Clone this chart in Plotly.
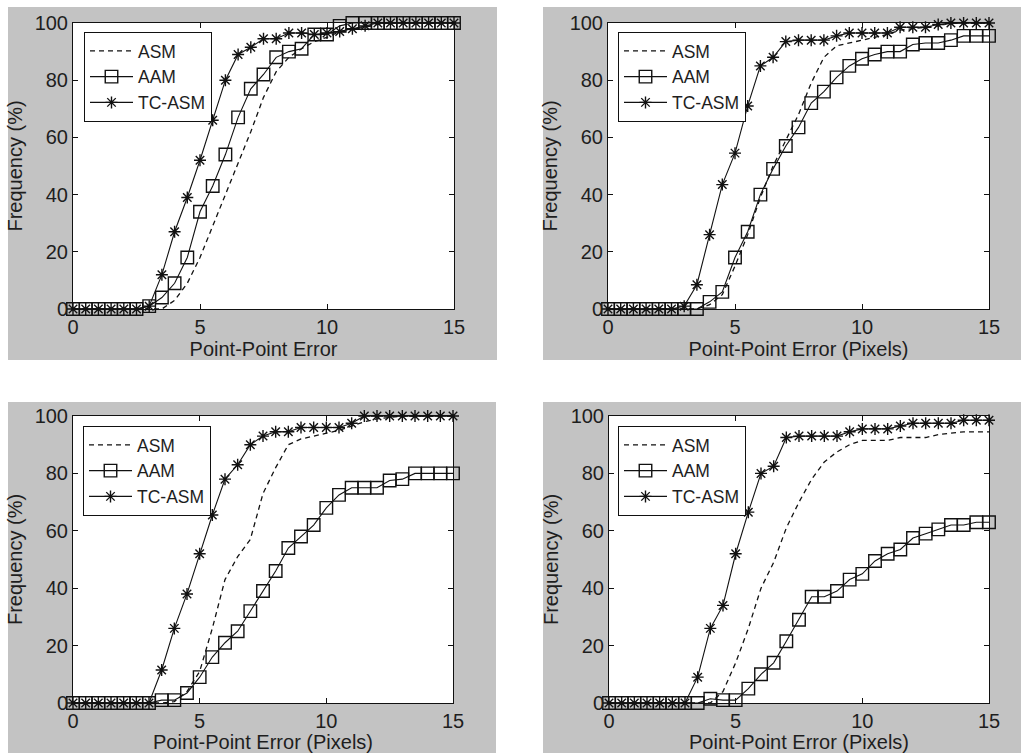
import plotly.graph_objects as go

# ---------------- data ----------------
X_ERR = [0, 0.5, 1, 1.5, 2, 2.5, 3, 3.5, 4, 4.5, 5, 5.5, 6, 6.5, 7, 7.5,
         8, 8.5, 9, 9.5, 10, 10.5, 11, 11.5, 12, 12.5, 13, 13.5, 14, 14.5, 15]

SERIES_NAMES = ["ASM", "AAM", "TC-ASM"]

# panel 1 (top-left)
ASM_1 = [0, 0, 0, 0, 0, 0, 0, 0, 3, 9, 18, 29, 40, 51, 62, 74,
         83, 88, 91, 93.5, 95, 97, 98, 98.5, 99.5, 100, 100, 100, 100, 100, 100]
AAM_1 = [0, 0, 0, 0, 0, 0, 1, 4, 9, 18, 34, 43, 54, 67, 77, 82,
         88, 90, 91, 96, 96, 99, 100, 100, 100, 100, 100, 100, 100, 100, 100]
TC_1 = [0, 0, 0, 0, 0, 0, 1, 12, 27, 39, 52, 66, 80, 89, 91.5, 94.5,
        94.5, 96.5, 96.5, 96, 96.5, 97, 98, 99, 100, 100, 100, 100, 100, 100, 100]

# panel 2 (top-right)
ASM_2 = [0, 0, 0, 0, 0, 0, 0, 0, 1.5, 5, 15, 26, 39, 50, 59, 68,
         79, 88, 92, 93, 94, 95, 96, 97.5, 98, 98.5, 99, 100, 100, 100, 100]
AAM_2 = [0, 0, 0, 0, 0, 0, 0, 0, 2.5, 6, 18, 27, 40, 49, 57, 63.5,
         72, 76, 81, 85, 87.5, 89, 90, 90, 92.5, 93, 93, 94, 95.5, 95.5, 95.5]
TC_2 = [0, 0, 0, 0, 0, 0, 1, 8.5, 26, 43.5, 54.5, 71, 85, 88, 93.5, 94,
        94, 94, 95.5, 96.5, 96.5, 96.5, 96.5, 98.5, 98.5, 98.5, 99.5, 100, 100, 100, 100]

# panel 3 (bottom-left)
ASM_3 = [0, 0, 0, 0, 0, 0, 0, 0, 0.5, 4, 11, 26, 43, 51, 57, 73,
         82, 90, 92, 93, 94, 95, 96.5, 98, 99, 99.5, 100, 100, 100, 100, 100]
AAM_3 = [0, 0, 0, 0, 0, 0, 0, 1, 1, 3.5, 9, 16, 21, 25, 32, 39,
         46, 54, 58, 62, 68, 72.5, 75, 75, 75, 77.5, 78, 80, 80, 80, 80]
TC_3 = [0, 0, 0, 0, 0, 0, 0, 11.5, 26, 38, 52, 65.5, 78, 83, 90, 93,
        94.5, 94.5, 96, 96, 96, 96, 97.5, 100, 100, 100, 100, 100, 100, 100, 100]

# panel 4 (bottom-right)
ASM_4 = [0, 0, 0, 0, 0, 0, 0, 0, 0, 4, 14, 26, 40, 49, 61, 70,
         78, 84, 87.5, 90, 91.5, 91.5, 91.5, 92.5, 92.5, 92.5, 93.5, 94, 94.5, 94.5, 94.5]
AAM_4 = [0, 0, 0, 0, 0, 0, 0, 0, 1.5, 1, 1, 5, 10, 14, 21.5, 29,
         37, 37, 39, 43, 45, 49.5, 52, 53.5, 57.5, 59, 60.5, 62, 62, 63, 63]
TC_4 = [0, 0, 0, 0, 0, 0, 0, 9, 26, 34, 52, 66.5, 80, 82.5, 92.5, 93,
        93, 93, 93, 94.5, 95.5, 95.5, 95.5, 96.5, 97.5, 97.5, 97.5, 97.5, 98.5, 98.5, 98.5]

X_TITLES = ["Point-Point Error", "Point-Point Error (Pixels)",
            "Point-Point Error (Pixels)", "Point-Point Error (Pixels)"]
Y_TITLE = "Frequency (%)"
X_TICKS = [0, 5, 10, 15]
Y_TICKS = [0, 20, 40, 60, 80, 100]

PANELS = [(ASM_1, AAM_1, TC_1), (ASM_2, AAM_2, TC_2),
          (ASM_3, AAM_3, TC_3), (ASM_4, AAM_4, TC_4)]

# ---------------- layout geometry (pixels) ----------------
W, H = 1021, 753
PLOT_PX = [(73, 454, 23, 309), (608, 989, 23, 309),
           (73, 453, 416, 703), (609, 989, 416, 703)]
GREY_PX = [(8, 497, 7, 360), (543, 1021, 7, 360),
           (8, 496, 402, 753), (543, 1021, 402, 753)]
LEGEND_PX = [(84, 32), (618, 32), (83, 426), (618, 426)]

GREY = "#c3c3c3"
INK = "#111111"
TXT = "#1e1e1e"
FONT = "Liberation Sans, Arial, sans-serif"


def px_x(p):
    return p / W


def px_y(p):
    return 1 - p / H


fig = go.Figure()
shapes = []
layout_axes = {}

for i, (asm, aam, tc) in enumerate(PANELS):
    n = i + 1
    xa = "x" if n == 1 else f"x{n}"
    ya = "y" if n == 1 else f"y{n}"
    leg = "legend" if n == 1 else f"legend{n}"

    fig.add_trace(go.Scatter(
        x=X_ERR, y=asm, name=SERIES_NAMES[0], mode="lines",
        line=dict(color=INK, width=1.3, dash="5px,4px"),
        xaxis=xa, yaxis=ya, legend=leg, cliponaxis=False))
    fig.add_trace(go.Scatter(
        x=X_ERR, y=aam, name=SERIES_NAMES[1], mode="lines+markers",
        line=dict(color=INK, width=1.1),
        marker=dict(symbol="square-open", size=12.5, color=INK,
                    line=dict(width=1.4, color=INK)),
        xaxis=xa, yaxis=ya, legend=leg, cliponaxis=False))
    fig.add_trace(go.Scatter(
        x=X_ERR, y=tc, name=SERIES_NAMES[2], mode="lines+markers",
        line=dict(color=INK, width=1.1),
        marker=dict(symbol="asterisk-open", size=10, color=INK,
                    line=dict(width=1.4, color=INK)),
        xaxis=xa, yaxis=ya, legend=leg, cliponaxis=False))

    l, r, t, b = PLOT_PX[i]
    axis_common = dict(
        showline=True, linecolor=INK, linewidth=1, mirror="ticks",
        ticks="inside", ticklen=5, tickcolor=INK, tickwidth=1,
        showgrid=False, zeroline=False, automargin=False,
        tickfont=dict(family=FONT, size=20, color=TXT),
    )
    xkey = "xaxis" if n == 1 else f"xaxis{n}"
    ykey = "yaxis" if n == 1 else f"yaxis{n}"
    layout_axes[xkey] = dict(
        axis_common, domain=[px_x(l), px_x(r)], range=[0, 15],
        tickvals=X_TICKS, anchor=ya,
        title=dict(text=X_TITLES[i], font=dict(family=FONT, size=20, color=TXT),
                   standoff=4))
    layout_axes[ykey] = dict(
        axis_common, domain=[px_y(b), px_y(t)], range=[0, 100],
        tickvals=Y_TICKS, anchor=xa,
        title=dict(text=Y_TITLE, font=dict(family=FONT, size=20, color=TXT),
                   standoff=6))

    gl, gr, gt, gb = GREY_PX[i]
    shapes.append(dict(type="rect", xref="paper", yref="paper",
                       x0=px_x(gl), x1=px_x(gr), y0=px_y(gb), y1=px_y(gt),
                       fillcolor=GREY, line=dict(width=0), layer="below"))

for i in range(4):
    n = i + 1
    xa = "x" if n == 1 else f"x{n}"
    ya = "y" if n == 1 else f"y{n}"
    shapes.append(dict(type="rect", xref=f"{xa} domain", yref=f"{ya} domain",
                       x0=0, x1=1, y0=0, y1=1, fillcolor="white",
                       line=dict(width=0), layer="below"))

legends = {}
for i, (lx, ly) in enumerate(LEGEND_PX):
    key = "legend" if i == 0 else f"legend{i + 1}"
    legends[key] = dict(
        x=px_x(lx), y=px_y(ly), xanchor="left", yanchor="top",
        xref="paper", yref="paper",
        bgcolor="white", bordercolor=INK, borderwidth=1,
        font=dict(family=FONT, size=17.5, color=TXT),
        tracegroupgap=0, itemwidth=43)

fig.update_layout(
    width=W, height=H, margin=dict(l=0, r=0, t=0, b=0, autoexpand=False),
    paper_bgcolor="white", plot_bgcolor="white",
    shapes=shapes, showlegend=True,
    **layout_axes, **legends)

fig.write_html("out.html")
